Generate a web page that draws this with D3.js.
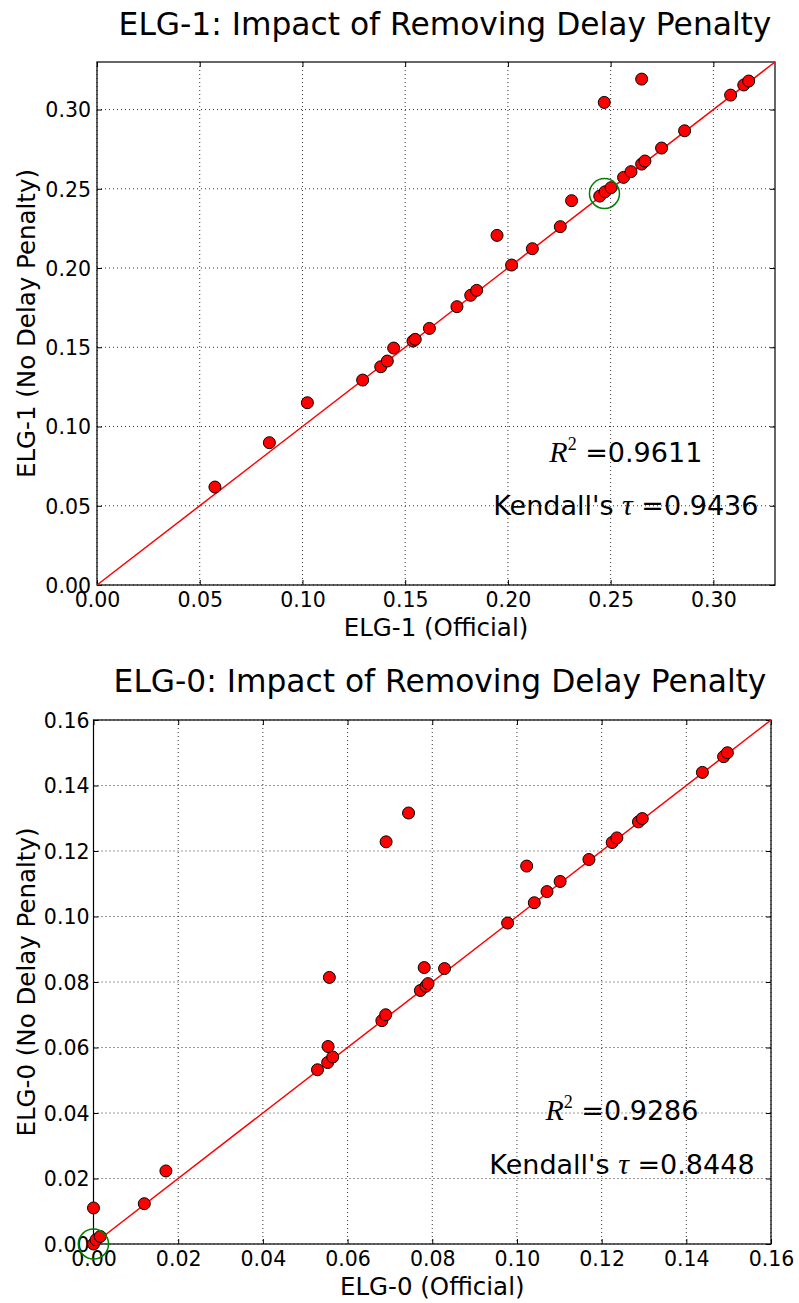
<!DOCTYPE html>
<html>
<head>
<meta charset="utf-8">
<script src="https://cdn.jsdelivr.net/npm/d3@7"></script>
<style>
  body { margin: 0; background: #fff; }
  svg { display: block; font-family: "DejaVu Sans", sans-serif; }
</style>
</head>
<body>
<svg id="chart" width="799" height="1303"></svg>
<script>
// ELG-1 points
var elg1Official = [0.0574, 0.0839, 0.1024, 0.1293, 0.1381, 0.1413, 0.1444, 0.1538, 0.1549, 0.1618,
  0.1752, 0.1819, 0.1848, 0.1947, 0.2018, 0.2119, 0.2255, 0.2310, 0.2447, 0.2473,
  0.2502, 0.2563, 0.2599, 0.2651, 0.2667, 0.2748, 0.2860, 0.2469, 0.2651, 0.3084,
  0.3148, 0.3172];
var elg1NoDelay = [0.0618, 0.0898, 0.1150, 0.1293, 0.1377, 0.1413, 0.1495, 0.1539, 0.1550, 0.1619,
  0.1756, 0.1828, 0.1859, 0.2206, 0.2019, 0.2122, 0.2261, 0.2425, 0.2454, 0.2481,
  0.2507, 0.2572, 0.2608, 0.2656, 0.2675, 0.2757, 0.2866, 0.3045, 0.3192, 0.3091,
  0.3155, 0.3180];

// ELG-0 points
var elg0Official = [0.0000, 0.0006, 0.0016, 0.0000, 0.0120, 0.0171, 0.0529, 0.0553, 0.0565, 0.0554,
  0.0557, 0.0681, 0.0690, 0.0772, 0.0785, 0.0790, 0.0781, 0.0829, 0.0691, 0.0744,
  0.0978, 0.1041, 0.1071, 0.1102, 0.1023, 0.1170, 0.1225, 0.1236, 0.1287, 0.1296,
  0.1438, 0.1488, 0.1497];
var elg0NoDelay = [0.0000, 0.0013, 0.0023, 0.0110, 0.0123, 0.0223, 0.0532, 0.0554, 0.0571, 0.0603,
  0.0814, 0.0682, 0.0700, 0.0774, 0.0787, 0.0795, 0.0844, 0.0841, 0.1228, 0.1316,
  0.0980, 0.1042, 0.1076, 0.1107, 0.1154, 0.1174, 0.1226, 0.1240, 0.1289, 0.1299,
  0.1440, 0.1488, 0.1500];

var elg1Ticks = [0.00, 0.05, 0.10, 0.15, 0.20, 0.25, 0.30];
var elg0Ticks = [0.00, 0.02, 0.04, 0.06, 0.08, 0.10, 0.12, 0.14, 0.16];

var elg1Stats = {r2: '0.9611', tau: '0.9436'};
var elg0Stats = {r2: '0.9286', tau: '0.8448'};

var svg = d3.select('#chart');

function draw_panel(p) {
  var g = svg.append('g');
  var x = d3.scaleLinear().domain([0, p.max]).range([p.left, p.right]);
  var y = d3.scaleLinear().domain([0, p.max]).range([p.bottom, p.top]);

  //dotted grid
  g.selectAll('line.gx').data(p.ticks).enter().append('line')
    .attr('x1', function(d) {return x(d);}).attr('x2', function(d) {return x(d);})
    .attr('y1', p.top).attr('y2', p.bottom)
    .attr('stroke', '#000').attr('stroke-width', 0.8).attr('stroke-dasharray', '1,3');
  g.selectAll('line.gy').data(p.ticks).enter().append('line')
    .attr('y1', function(d) {return y(d);}).attr('y2', function(d) {return y(d);})
    .attr('x1', p.left).attr('x2', p.right)
    .attr('stroke', '#000').attr('stroke-width', 0.8).attr('stroke-dasharray', '1,3');

  //axes, inward ticks on all four sides
  var fmt = d3.format('.2f');
  var axB = g.append('g').attr('transform', 'translate(0,' + p.bottom + ')')
    .call(d3.axisBottom(x).tickValues(p.ticks).tickFormat(fmt).tickSizeInner(-5).tickSizeOuter(0).tickPadding(10));
  var axL = g.append('g').attr('transform', 'translate(' + p.left + ',0)')
    .call(d3.axisLeft(y).tickValues(p.ticks).tickFormat(fmt).tickSizeInner(-5).tickSizeOuter(0).tickPadding(10));
  var axT = g.append('g').attr('transform', 'translate(0,' + p.top + ')')
    .call(d3.axisTop(x).tickValues(p.ticks).tickFormat('').tickSizeInner(-5).tickSizeOuter(0));
  var axR = g.append('g').attr('transform', 'translate(' + p.right + ',0)')
    .call(d3.axisRight(y).tickValues(p.ticks).tickFormat('').tickSizeInner(-5).tickSizeOuter(0));
  [axB, axL, axT, axR].forEach(function(a) {
    a.select('.domain').remove();
    a.selectAll('line').attr('stroke', '#000');
    a.selectAll('text').attr('font-family', '"DejaVu Sans", sans-serif').attr('font-size', 20.5).attr('fill', '#000');
  });
  axB.selectAll('text').attr('dy', null).attr('y', 22).attr('dominant-baseline', 'auto');
  axL.selectAll('text').attr('dy', '0.36em').attr('x', -p.labelGap);

  //frame
  g.append('rect').attr('x', p.left).attr('y', p.top)
    .attr('width', p.right - p.left).attr('height', p.bottom - p.top)
    .attr('fill', 'none').attr('stroke', '#000').attr('stroke-width', 1.2);

  //identity line
  g.append('line')
    .attr('x1', x(0)).attr('y1', y(0)).attr('x2', x(p.max)).attr('y2', y(p.max))
    .attr('stroke', '#ff0000').attr('stroke-width', 1.5);

  g.selectAll('circle.pt').data(d3.zip(p.xs, p.ys)).enter().append('circle')
    .attr('cx', function(d) {return x(d[0]);})
    .attr('cy', function(d) {return y(d[1]);})
    .attr('r', 6)
    .attr('fill', '#ff0000').attr('stroke', '#000').attr('stroke-width', 1);

  //green highlight ring
  g.append('circle')
    .attr('cx', x(p.mark)).attr('cy', y(p.mark)).attr('r', 15)
    .attr('fill', 'none').attr('stroke', '#008000').attr('stroke-width', 1.5);

  //titles and labels
  g.append('text').attr('x', p.titleX).attr('y', p.titleY)
    .attr('text-anchor', 'middle').attr('font-size', 31.3).text(p.title);
  g.append('text').attr('x', (p.left + p.right) / 2).attr('y', p.bottom + 51)
    .attr('text-anchor', 'middle').attr('font-size', 24.5).text(p.xlabel);
  g.append('text')
    .attr('transform', 'translate(35,' + (p.top + p.bottom) / 2 + ') rotate(-90)')
    .attr('text-anchor', 'middle').attr('font-size', 24.5).text(p.ylabel);

  //stats text
  var sx = p.left + 0.78 * (p.right - p.left);
  var t1 = g.append('text').attr('x', sx).attr('y', y(p.max * 0.236))
    .attr('text-anchor', 'middle').attr('font-size', 27);
  t1.append('tspan').attr('font-family', '"Liberation Serif", serif').attr('font-style', 'italic').attr('font-size', 30).text('R');
  t1.append('tspan').attr('font-family', '"Liberation Serif", serif').attr('font-size', 18).attr('dy', -12).text('2');
  t1.append('tspan').attr('dy', 12).text(' =' + p.stats.r2);
  var t2 = g.append('text').attr('x', sx).attr('y', y(p.max * 0.134))
    .attr('text-anchor', 'middle').attr('font-size', 27);
  t2.append('tspan').text("Kendall's ");
  t2.append('tspan').attr('font-family', '"Liberation Serif", serif').attr('font-style', 'italic').attr('font-size', 30).text('τ');
  t2.append('tspan').text(' =' + p.stats.tau);
}

draw_panel({
  left: 97, right: 775, top: 62, bottom: 585, max: 0.33, labelGap: 6,
  ticks: elg1Ticks, xs: elg1Official, ys: elg1NoDelay, mark: 0.247,
  title: 'ELG-1: Impact of Removing Delay Penalty', titleX: 445, titleY: 35,
  xlabel: 'ELG-1 (Official)', ylabel: 'ELG-1 (No Delay Penalty)', stats: elg1Stats
});

draw_panel({
  left: 93.5, right: 771, top: 720, bottom: 1244, max: 0.16, labelGap: 4,
  ticks: elg0Ticks, xs: elg0Official, ys: elg0NoDelay, mark: 0,
  title: 'ELG-0: Impact of Removing Delay Penalty', titleX: 440, titleY: 692,
  xlabel: 'ELG-0 (Official)', ylabel: 'ELG-0 (No Delay Penalty)', stats: elg0Stats
});
</script>
</body>
</html>
